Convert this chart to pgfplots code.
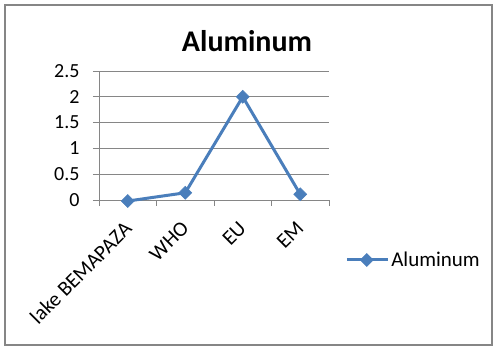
\documentclass[border=0pt]{standalone}
\usepackage{pgfplots}
\pgfplotsset{compat=1.18}
\usepackage{fontspec}
\setmainfont{Carlito}
\definecolor{xlblue}{HTML}{4A7EBB}
\definecolor{xlgrid}{HTML}{868686}
\begin{document}
\begin{tikzpicture}[x=1pt,y=1pt]
\path (0,0) rectangle (496,350);
\draw[color=xlgrid, line width=2pt] (5,5) rectangle (492,345);
\node[font=\fontsize{30}{33}\selectfont\bfseries] at (247,309) {Aluminum};
\begin{axis}[
  at={(99pt,150pt)}, anchor=south west,
  scale only axis, width=230pt, height=129pt,
  xmin=-0.5, xmax=3.5, ymin=0, ymax=2.5,
  ytick={0,0.5,1,1.5,2,2.5},
  yticklabels={0,0.5,1,1.5,2,2.5},
  xtick={0,1,2,3},
  xticklabels={lake BEMAPAZA,WHO,EU,EM},
  xtick style={draw=none},
  extra x ticks={-0.5,0.5,1.5,2.5,3.5},
  extra x tick labels={},
  extra x tick style={xtick style={draw=xlgrid, line width=0.8pt}},
  tick align=outside, major tick length=6pt,
  ytick style={draw=xlgrid, line width=0.8pt},
  ymajorgrids, grid style={xlgrid, line width=0.8pt},
  axis x line*=bottom, axis y line*=left,
  axis line style={xlgrid, line width=0.8pt, -},
  yticklabel style={font=\fontsize{20}{22}\selectfont, xshift=-10pt},
  xticklabel style={font=\fontsize{21}{23}\selectfont, xshift=-5pt, yshift=-11pt, rotate=45, anchor=north east, inner sep=2pt},
  clip=false,
  legend style={at={(1.07,-0.465)}, anchor=west, draw=none, fill=none,
    font=\fontsize{21}{23}\selectfont, inner sep=0pt,
    /tikz/every even column/.style={column sep=0pt}},
  legend cell align=left,
  legend image code/.code={\draw[mark repeat=2,mark phase=2,#1] plot coordinates {(0pt,0pt) (20pt,0pt) (41pt,0pt)};},
]
\addplot[color=xlblue, line width=3pt, mark=square*, mark size=4.6pt,
  mark options={rotate=45, fill=xlblue, draw=xlblue, line width=0.5pt}]
  coordinates {(0,-0.02) (1,0.14) (2,2) (3,0.11)};
\addlegendentry{Aluminum}
\end{axis}
\end{tikzpicture}
\end{document}
